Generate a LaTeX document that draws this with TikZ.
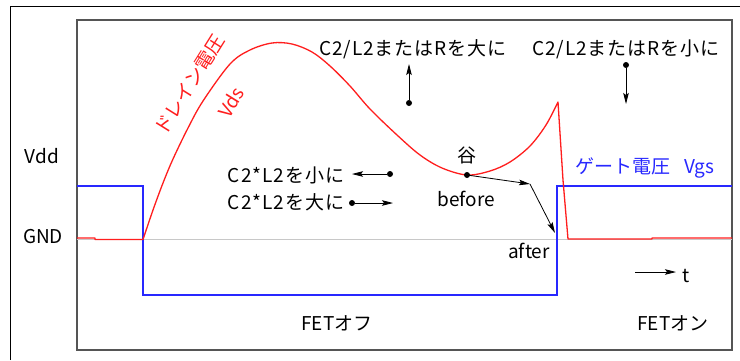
\documentclass[tikz,border=0pt]{standalone}
\usepackage{fontspec}
\setmainfont{Noto Sans CJK JP}
\newfontfamily\widecjk{Noto Sans CJK JP}[LetterSpace=5]
\usetikzlibrary{arrows.meta}
\definecolor{framegray}{RGB}{85,85,85}
\definecolor{gndgray}{RGB}{200,200,200}
\definecolor{vred}{RGB}{255,30,30}
\definecolor{vblue}{RGB}{40,40,255}
\begin{document}
\begin{tikzpicture}[x=1pt,y=-1pt,
  lbl/.style={inner sep=0pt, font=\fontsize{19}{22}\selectfont},
  widelbl/.style={inner sep=0pt, font=\fontsize{19}{22}\selectfont\widecjk},
  arr/.style={-{Stealth[length=11pt,width=5.5pt,inset=2pt]}, line width=0.8pt},
  dotmark/.style={circle, fill=black, inner sep=0pt, minimum size=6pt},
  redcurve/.style={draw=vred, line width=1.3pt, line join=round},
  bluecurve/.style={draw=vblue, line width=1.8pt},
]
\useasboundingbox (0,0) rectangle (740,360);
\fill[white] (0,0) rectangle (740,360);
% frames
\draw[line width=1pt] (10,360) -- (10,6) -- (740,6);
\draw[line width=2pt, draw=framegray] (77,20) rectangle (732,350);
% GND line
\draw[line width=1.5pt, draw=gndgray] (77,239.5) -- (732,239.5);
% gate voltage
\draw[bluecurve] (77,186) -- (143,186) -- (143,295) -- (557,295) -- (557,186) -- (732,186);
% drain voltage
\draw[redcurve] (77,238) -- (95,238) -- (95,239.5) -- (143,239.5)
  plot[smooth, tension=0.55] coordinates {(143,239.5) (153,210) (163,183) (173,159) (188,128) (203,101) (230,64) (250,50) (272,43) (292,44) (312,52) (330,66) (350,86) (370,109) (397,135) (420,155) (442,168) (467,175) (490,171) (510,162) (530,146) (546,125) (558,102)}
  -- (563,180) -- (568,239) -- (652,239) -- (652,238) -- (732,238);
% labels
\node[lbl] (vdd) at (42,156) {Vdd};
\node[lbl] (gnd) at (43,237) {GND};
\node[widelbl] (big1) at (413,49) {C2/L2またはRを大に};
\node[widelbl] (small1) at (626,49) {C2/L2またはRを小に};
\node[lbl, text=vred, rotate=58] (drain) at (190,85) {ドレイン電圧};
\node[lbl, text=vred, rotate=58] (vds) at (231,102) {Vds};
\node[lbl] (tani) at (467,155) {谷};
\node[lbl] (before) at (466,199) {before};
\node[lbl] (after) at (529,251) {after};
\node[widelbl] (csmall) at (286,175) {C2*L2を小に};
\node[widelbl] (cbig) at (286,202) {C2*L2を大に};
\node[lbl, text=vblue, anchor=west] (gate) at (575,168) {ゲート電圧\hspace{14pt}Vgs};
\node[lbl] (tlbl) at (686,276) {t};
\node[lbl] (fetoff) at (337,323) {FETオフ};
\node[lbl] (feton) at (673,323) {FETオン};
% arrows and dots
\node[dotmark] (upd) at (409,103) {};
\coordinate (uptip) at (409,64);
\draw[arr] (upd) -- (uptip);
\node[dotmark] (dnd) at (626,65) {};
\coordinate (dntip) at (626,104);
\draw[arr] (dnd) -- (dntip);
\node[dotmark] (sd) at (390,174) {};
\coordinate (stip) at (352,174);
\draw[arr] (sd) -- (stip);
\node[dotmark] (bd) at (352,203) {};
\coordinate (btip) at (393,203);
\draw[arr] (bd) -- (btip);
\node[dotmark] (vd) at (467,175) {};
\coordinate (corner) at (530,184);
\coordinate (atip) at (555,233);
\draw[arr] (vd.center) -- (corner);
\draw[arr] (corner) -- (atip);
\coordinate (t0) at (635,272);
\coordinate (t1) at (676,272);
\draw[arr] (t0) -- (t1);
\end{tikzpicture}
\end{document}
